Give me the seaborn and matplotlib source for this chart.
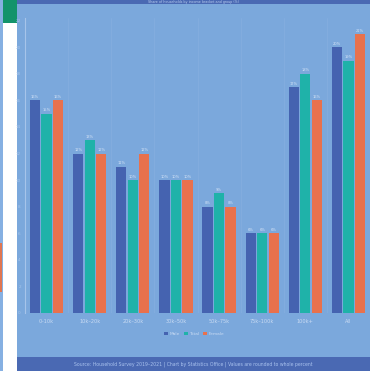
import numpy as np
import pandas as pd
import matplotlib
matplotlib.use("Agg")
import matplotlib.pyplot as plt
from matplotlib.patches import Rectangle
import seaborn as sns

categories = ["0–10k", "10k–20k", "20k–30k", "30k–50k", "50k–75k", "75k–100k", "100k+", "All"]
series_names = ["Male", "Total", "Female"]
male = [16, 12, 11, 10, 8, 6, 17, 20]
total = [15, 13, 10, 10, 9, 6, 18, 19]
female = [16, 12, 12, 10, 8, 6, 16, 21]
colors = ["#4563b0", "#1fb2a9", "#e8714d"]
title = "Share of households by income bracket and group (%)"
source = "Source: Household Survey 2019–2021 | Chart by Statistics Office | Values are rounded to whole percent"

sns.set_theme(style="white")
plt.rcParams['font.family'] = ['DejaVu Sans']

df = pd.DataFrame({
    "category": np.repeat(categories, 3),
    "series": series_names * len(categories),
    "value": [v for trip in zip(male, total, female) for v in trip],
})

W, H = 377, 371
fig = plt.figure(figsize=(W / 100, H / 100), dpi=100)
fig.patch.set_facecolor("white")

def frect(x0, y0, x1, y1, color, z=-10):
    fig.patches.append(Rectangle((x0 / W, 1 - y1 / H), (x1 - x0) / W, (y1 - y0) / H,
                                 transform=fig.transFigure, facecolor=color,
                                 edgecolor="none", zorder=z))

bg = "#7ba8dc"
dark = "#4a69b3"
frect(0, 0, 3, H, "#86b0e2")
frect(0, 243, 2, 292, "#e07650")
frect(3, 0, 17, H, "white")
frect(3, 0, 17, 23, "#13936b")
frect(17, 0, 370, 357, bg)
frect(17, 0, 370, 4, dark)
frect(17, 357, 370, H, dark)
fig.text((17 + 370) / 2 / W, 1 - 2 / H, title, ha="center", va="center",
         fontsize=2.4, color="#b8cdf0")
fig.text((17 + 370) / 2 / W, 1 - 364 / H, source, ha="center", va="center",
         fontsize=3.3, color="#a9c2ee")

ax = fig.add_axes([25 / W, 1 - 313 / H, (370 - 25) / W, (313 - 18) / H])
ax.set_facecolor("none")
sns.barplot(data=df, x="category", y="value", hue="series", palette=colors,
            order=categories, hue_order=series_names, width=0.8, gap=0.1,
            saturation=1, linewidth=0, ax=ax, legend=True)
ax.set_ylim(0, 22.2)
ax.set_xlim(-0.5, len(categories) - 0.5)
ax.set_yticks(np.arange(0, 23, 2))
ax.tick_params(axis="y", labelsize=3, colors="#a6c4ea", length=2, width=0.5, pad=1)
ax.tick_params(axis="x", labelsize=3.6, colors="#c9dbf3", length=0, pad=4)
ax.set_xlabel("")
ax.set_ylabel("")
for s in ["top", "right", "bottom"]:
    ax.spines[s].set_visible(False)
ax.spines["left"].set_color("#a6c4ea")
ax.spines["left"].set_linewidth(0.8)
for i in range(1, len(categories)):
    ax.axvline(i - 0.5, color="#86afe0", lw=0.5, zorder=0)

for cont in ax.containers:
    ax.bar_label(cont, labels=[f"{v:.0f}%" for v in cont.datavalues], fontsize=2.6,
                 color="#d3e2f6", padding=1)

leg = ax.legend(loc="upper center", bbox_to_anchor=(0.49, -0.05), ncol=3,
                frameon=False, fontsize=3.2, handlelength=0.9, handleheight=0.9,
                columnspacing=0.9, handletextpad=0.3)
for t in leg.get_texts():
    t.set_color("#c9dbf3")

fig.savefig("out.png", dpi=100, facecolor=fig.get_facecolor())
